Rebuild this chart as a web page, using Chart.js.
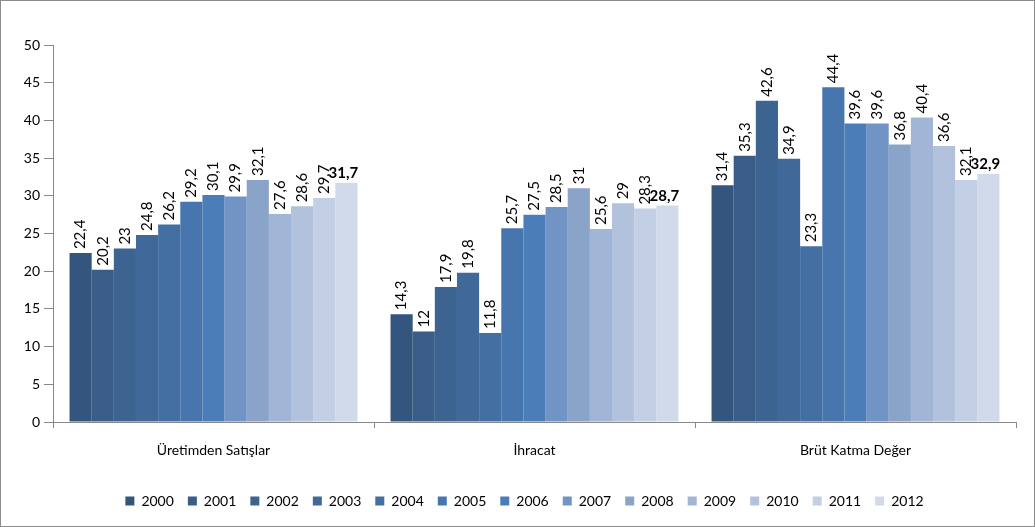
<!DOCTYPE html>
<html>
<head>
<meta charset="utf-8">
<script src="https://cdn.jsdelivr.net/npm/chart.js@4"></script>
<style>
  html, body { margin: 0; padding: 0; background: #fff; }
  #wrap { position: relative; width: 1035px; height: 527px; box-sizing: border-box; border: 1px solid #8c8c8c; }
  canvas { display: block; }
</style>
</head>
<body>
<div id="wrap"><canvas id="chart" width="1033" height="525"></canvas></div>
<script>
const categories = ['Üretimden Satışlar', 'İhracat', 'Brüt Katma Değer'];
const years = ['2000', '2001', '2002', '2003', '2004', '2005', '2006', '2007', '2008', '2009', '2010', '2011', '2012'];

// one row per year: [Üretimden Satışlar, İhracat, Brüt Katma Değer]
const v2000 = [22.4, 14.3, 31.4];
const v2001 = [20.2, 12.0, 35.3];
const v2002 = [23.0, 17.9, 42.6];
const v2003 = [24.8, 19.8, 34.9];
const v2004 = [26.2, 11.8, 23.3];
const v2005 = [29.2, 25.7, 44.4];
const v2006 = [30.1, 27.5, 39.6];
const v2007 = [29.9, 28.5, 39.6];
const v2008 = [32.1, 31.0, 36.8];
const v2009 = [27.6, 25.6, 40.4];
const v2010 = [28.6, 29.0, 36.6];
const v2011 = [29.7, 28.3, 32.1];
const v2012 = [31.7, 28.7, 32.9];
const values = [v2000, v2001, v2002, v2003, v2004, v2005, v2006, v2007, v2008, v2009, v2010, v2011, v2012];

const colors = [
    '#34557d', '#3a5d88', '#3d6391', '#40699a', '#436fa3', '#4776ae', '#4b7db8',
    '#7194c5', '#8aa3c9', '#a1b5d6', '#b2c2dd', '#c3cfe4', '#d1daea'
];

const FONT = 'Lato, "Open Sans", sans-serif';

// Draw value labels: rotated for most years, bold horizontal for the last one
const valueLabels = {
    id: 'valueLabels',
    afterDatasetsDraw(chart) {
        const ctx = chart.ctx;
        const last = chart.data.datasets.length - 1;
        chart.data.datasets.forEach((ds, i) => {
            const meta = chart.getDatasetMeta(i);
            meta.data.forEach((bar, j) => {
                const text = String(ds.data[j]).replace('.', ',');
                ctx.save();
                ctx.fillStyle = '#000';
                if (i === last) {
                    ctx.font = 'bold 15px ' + FONT;
                    ctx.textAlign = 'center';
                    ctx.textBaseline = 'bottom';
                    ctx.fillText(text, bar.x - 3, bar.y - 2);
                } else {
                    ctx.font = '15px ' + FONT;
                    ctx.translate(bar.x, bar.y - 4);
                    ctx.rotate(-Math.PI / 2);
                    ctx.textAlign = 'left';
                    ctx.textBaseline = 'middle';
                    ctx.fillText(text, 0, 0);
                }
                ctx.restore();
            });
        });
    }
};

// nudge the legend a little to the right, as in the original
const legendShift = {
    id: 'legendShift',
    afterLayout(chart) {
        chart.legend.left += 14;
        chart.legend.right += 14;
    }
};

const datasets = years.map((y, i) => ({
    label: y,
    data: values[i],
    backgroundColor: colors[i],
    borderWidth: 0,
    barPercentage: 1.0,
    categoryPercentage: 0.897
}));

new Chart(document.getElementById('chart'), {
    type: 'bar',
    data: { labels: categories, datasets },
    options: {
        responsive: false,
        animation: false,
        layout: { padding: { top: 44, right: 18, left: 4, bottom: 8 } },
        plugins: {
            legend: {
                position: 'bottom',
                labels: {
                    boxWidth: 9,
                    boxHeight: 9,
                    padding: 14,
                    color: '#000',
                    font: { size: 14, family: FONT }
                }
            },
            tooltip: { enabled: false }
        },
        scales: {
            x: {
                grid: { display: true, drawOnChartArea: false, offset: true, tickLength: 6, color: '#888' },
                border: { color: '#888' },
                ticks: { color: '#000', font: { size: 14, family: FONT }, padding: 14 },
                afterFit: s => { s.height = 58; }
            },
            y: {
                min: 0,
                max: 50,
                ticks: { stepSize: 5, color: '#000', font: { size: 14, family: FONT }, padding: 4 },
                grid: { display: true, drawOnChartArea: false, tickLength: 9, color: '#888' },
                border: { color: '#888' },
                afterFit: s => { s.width = 48; }
            }
        }
    },
    plugins: [valueLabels, legendShift]
});
</script>
</body>
</html>
